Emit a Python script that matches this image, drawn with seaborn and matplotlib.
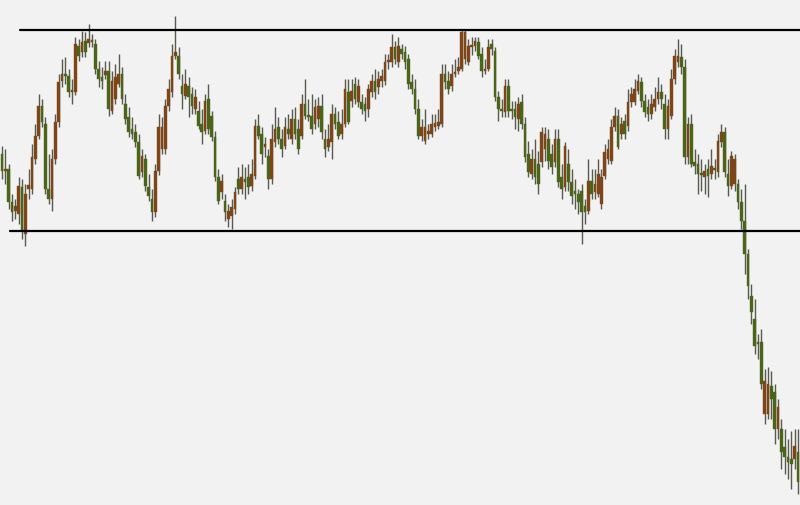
import numpy as np
import pandas as pd
import matplotlib
matplotlib.use("Agg")
import matplotlib.pyplot as plt
import seaborn as sns

# ============= DATA (price points) =============
opens = [351, 334, 336, 303, 294, 291, 318, 271, 316, 316, 346, 369, 399, 381, 316, 306, 346, 383, 424, 431,
         429, 413, 413, 459, 453, 464, 462, 465, 461, 436, 428, 430, 434, 394, 406, 421, 431, 401, 388, 376,
         373, 363, 333, 346, 318, 306, 293, 334, 356, 356, 399, 413, 449, 449, 419, 409, 419, 411, 396, 394,
         381, 374, 406, 389, 368, 328, 313, 304, 286, 289, 296, 326, 316, 326, 328, 319, 329, 379, 371, 358,
         349, 326, 363, 378, 366, 359, 376, 366, 386, 376, 369, 401, 389, 389, 381, 386, 399, 366, 358, 363,
         391, 383, 371, 381, 413, 404, 421, 403, 403, 401, 396, 413, 424, 418, 424, 424, 443, 443, 458, 443,
         456, 453, 446, 423, 416, 396, 369, 364, 371, 371, 378, 379, 381, 431, 424, 419, 431, 434, 436, 446,
         443, 458, 459, 463, 451, 434, 436, 461, 454, 408, 396, 393, 419, 396, 396, 386, 403, 381, 351, 331,
         346, 341, 343, 356, 366, 351, 343, 366, 328, 318, 341, 323, 314, 311, 314, 299, 294, 324, 313, 311,
         301, 329, 346, 344, 378, 389, 371, 384, 379, 403, 403, 414, 423, 404, 398, 391, 398, 406, 413, 401,
         376, 389, 426, 443, 448, 438, 348, 381, 343, 341, 331, 328, 336, 331, 336, 333, 363, 373, 331, 319,
         321, 321, 303, 284, 251, 209, 186, 163, 163, 91, 91, 119, 113, 76, 76, 58, 48, 46, 46, 53]
closes = [334, 336, 303, 293, 299, 319, 274, 311, 320, 348, 369, 399, 383, 316, 306, 346, 383, 423, 431, 429,
          413, 414, 461, 449, 463, 453, 466, 463, 436, 426, 424, 434, 396, 424, 428, 431, 406, 386, 373, 371,
          363, 329, 349, 319, 309, 293, 334, 378, 378, 399, 416, 449, 453, 431, 411, 421, 408, 399, 408, 379,
          373, 404, 376, 368, 328, 304, 324, 293, 294, 298, 313, 316, 328, 323, 318, 331, 379, 369, 351, 361,
          326, 366, 376, 366, 356, 378, 371, 386, 371, 356, 401, 389, 388, 376, 398, 399, 373, 356, 366, 391,
          381, 369, 381, 416, 383, 414, 406, 419, 396, 394, 416, 424, 413, 426, 429, 443, 444, 458, 446, 459,
          451, 443, 421, 416, 396, 369, 378, 378, 374, 381, 382, 383, 431, 423, 416, 431, 433, 438, 473, 473,
          459, 459, 464, 449, 434, 436, 458, 456, 408, 396, 394, 419, 394, 394, 388, 401, 381, 348, 333, 346,
          328, 321, 373, 371, 344, 338, 366, 323, 316, 359, 323, 309, 311, 303, 293, 293, 324, 311, 321, 331,
          328, 353, 356, 378, 389, 358, 381, 371, 403, 411, 416, 424, 404, 393, 391, 401, 406, 413, 406, 376,
          399, 426, 449, 449, 438, 348, 381, 341, 339, 331, 330, 334, 329, 339, 335, 364, 373, 333, 319, 349,
          346, 303, 284, 251, 219, 193, 159, 161, 121, 124, 121, 106, 76, 98, 53, 48, 43, 41, 59, 23]
highs = [359, 356, 341, 311, 306, 328, 326, 321, 336, 361, 381, 411, 406, 388, 351, 356, 391, 431, 446, 448,
         436, 426, 468, 466, 474, 473, 481, 471, 466, 444, 438, 444, 444, 434, 441, 451, 438, 411, 398, 388,
         381, 371, 356, 351, 331, 316, 341, 391, 388, 406, 426, 461, 489, 458, 431, 436, 428, 418, 416, 404,
         396, 411, 421, 394, 374, 336, 331, 311, 301, 306, 318, 338, 341, 338, 341, 346, 386, 391, 378, 368,
         356, 381, 398, 388, 376, 388, 391, 396, 398, 386, 411, 426, 406, 411, 406, 408, 411, 376, 381, 401,
         398, 394, 396, 426, 426, 426, 428, 426, 411, 408, 421, 431, 436, 434, 436, 451, 451, 471, 464, 468,
         461, 459, 451, 431, 426, 406, 386, 396, 381, 391, 391, 396, 441, 441, 434, 441, 446, 448, 476, 476,
         466, 468, 468, 468, 458, 446, 466, 466, 458, 414, 406, 426, 426, 404, 404, 408, 411, 388, 364, 356,
         366, 354, 378, 378, 376, 361, 376, 376, 341, 363, 356, 336, 326, 316, 321, 306, 346, 336, 336, 346,
         336, 361, 366, 386, 398, 396, 388, 391, 416, 418, 426, 431, 428, 411, 406, 411, 418, 428, 421, 411,
         406, 436, 456, 466, 461, 446, 388, 391, 356, 351, 346, 341, 346, 356, 346, 371, 381, 378, 346, 354,
         351, 326, 316, 321, 256, 221, 206, 171, 176, 136, 138, 134, 121, 106, 86, 76, 66, 74, 76, 76]
lows = [326, 321, 296, 284, 286, 281, 266, 259, 306, 311, 341, 366, 378, 311, 301, 294, 341, 378, 418, 421,
        408, 401, 410, 444, 448, 448, 458, 458, 431, 418, 416, 426, 389, 391, 401, 418, 401, 381, 368, 366,
        358, 326, 328, 314, 304, 284, 288, 330, 351, 351, 394, 408, 446, 426, 396, 406, 388, 391, 391, 376,
        361, 371, 371, 364, 324, 301, 306, 284, 278, 276, 291, 311, 311, 306, 311, 314, 326, 366, 341, 348,
        316, 321, 358, 361, 348, 356, 366, 361, 366, 351, 366, 386, 384, 371, 376, 378, 366, 348, 354, 346,
        376, 366, 366, 378, 381, 398, 401, 398, 391, 384, 388, 408, 406, 411, 418, 420, 436, 438, 441, 438,
        446, 436, 416, 411, 391, 366, 364, 361, 366, 368, 374, 376, 378, 416, 411, 414, 428, 431, 434, 441,
        440, 450, 454, 446, 428, 431, 434, 450, 404, 384, 388, 388, 388, 386, 376, 374, 376, 343, 328, 326,
        321, 311, 338, 344, 336, 331, 338, 318, 306, 314, 314, 301, 296, 291, 261, 281, 291, 306, 306, 308,
        296, 326, 341, 341, 374, 356, 366, 366, 374, 398, 400, 411, 398, 388, 384, 386, 394, 401, 396, 366,
        366, 386, 421, 438, 431, 341, 341, 338, 331, 311, 314, 311, 308, 326, 326, 328, 358, 328, 309, 316,
        314, 296, 276, 231, 206, 181, 151, 146, 116, 81, 86, 86, 61, 66, 36, 31, 26, 16, 36, 11]

# horizontal resistance / support levels
resistance = 475
support = 274

# ============= PLOT =============
sns.set_style("white", {"axes.facecolor": "#f2f2f2", "figure.facecolor": "#f2f2f2"})

df = pd.DataFrame({"open": opens, "high": highs, "low": lows, "close": closes})
df["idx"] = np.arange(len(df))
df["up"] = df["close"] > df["open"]

up_color = "#7e4518"
down_color = "#4a6518"
wick_color = "#575a4e"

fig = plt.figure(figsize=(8, 5.06), dpi=100)
ax = fig.add_axes([0, 0, 1, 1])

ax.vlines(df["idx"], df["low"], df["high"], color=wick_color, linewidth=1.0, zorder=2)

bottoms = df[["open", "close"]].min(axis=1)
heights = (df["close"] - df["open"]).abs().clip(lower=2.5)
colors = np.where(df["up"], up_color, down_color)
ax.bar(df["idx"], heights, bottom=bottoms, width=0.8, color=colors,
       edgecolor=colors, linewidth=0.3, zorder=3)

ax.axhline(resistance, xmin=0.025, xmax=1, color="black", linewidth=1.6, zorder=4)
ax.axhline(support, xmin=0.0125, xmax=1, color="black", linewidth=1.6, zorder=4)

ax.set_xlim(-0.6, len(df) - 0.4)
ax.set_ylim(0, 506)
ax.set_axis_off()

fig.savefig("out.png", dpi=100, facecolor="#f2f2f2")
